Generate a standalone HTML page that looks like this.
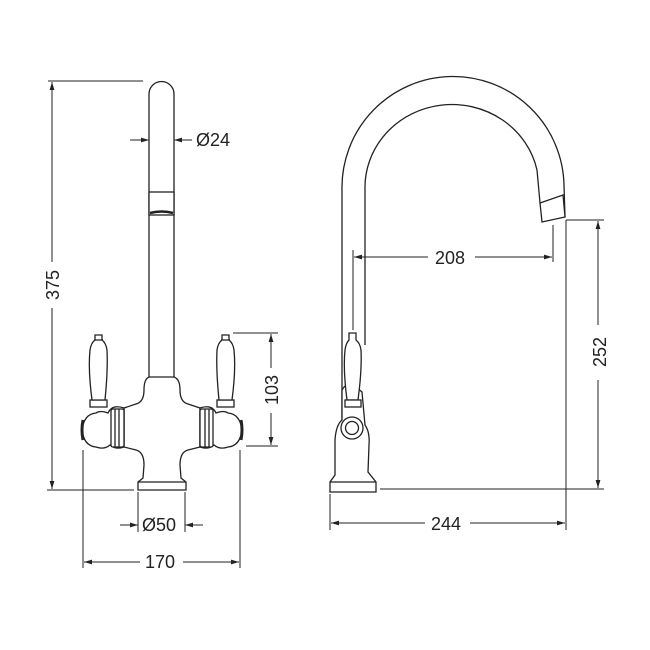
<!DOCTYPE html>
<html><head><style>
body{margin:0;background:#fff}
svg{display:block}
text{font-family:"Liberation Sans",sans-serif;font-size:18px;fill:#222}
</style></head><body>
<svg width="650" height="650" viewBox="0 0 650 650" xmlns="http://www.w3.org/2000/svg">
<defs>
<marker id="a" viewBox="0 0 10 10" refX="10" refY="5" markerWidth="8" markerHeight="8" orient="auto-start-reverse" markerUnits="userSpaceOnUse"><path d="M0,2 L10,5 L0,8z" fill="#222"/></marker>
<g id="h" fill="#fff" stroke="#222" stroke-width="1.3">
<path d="M124,408 Q112,404 108,413 Q100,410 96,413 Q84,414 82,430 Q84,446 96,447 Q104,450 110,445 Q116,450 124,447 Z"/>
<rect x="111" y="409" width="13" height="38" rx="2"/>
<line x1="115" y1="409" x2="115" y2="447"/><line x1="119" y1="409" x2="119" y2="447"/>
<path d="M83,420 Q81,430 83,440" stroke-width="3"/>
<rect x="90" y="400" width="17" height="7"/>
<path d="M92,400 Q88,370 90,350 Q91,343 95,340 L95,335 L102,335 L102,340 Q106,343 107,350 Q108,370 105,400 Z"/>
<line x1="94" y1="340" x2="103" y2="340"/>
</g>
</defs>
<g fill="none" stroke="#222" stroke-width="1.3">
<path d="M149,378 L149,94 A12.5,12.5 0 0 1 174,94 L174,378"/>
<rect x="149" y="192" width="25" height="23" fill="#fff"/>
<path d="M150,213 Q162,210 173,213" stroke-width="2.5"/>
<path d="M149,377 L174,377 Q180,379 180,390 Q180,402 188,404 L200,408 L200,447 L188,450 Q180,452 180,465 L181,478 L186,482 L186,490 L138,490 L138,482 L143,478 L144,465 Q144,452 136,450 L124,447 L124,408 L136,404 Q144,402 144,390 Q144,379 149,377Z" fill="#fff"/>
<line x1="138" y1="482" x2="186" y2="482"/>
</g>
<use href="#h"/>
<use href="#h" transform="translate(324,0) scale(-1,1)"/>
<g fill="none" stroke="#222" stroke-width="1">
<line x1="48" y1="81" x2="143" y2="81"/>
<line x1="47" y1="490" x2="134" y2="490"/>
<line x1="52" y1="82" x2="52" y2="262" marker-start="url(#a)"/>
<line x1="52" y1="308" x2="52" y2="489" marker-end="url(#a)"/>
<line x1="130" y1="140" x2="149" y2="140" marker-end="url(#a)"/>
<line x1="192" y1="140" x2="174" y2="140" marker-end="url(#a)"/>
<line x1="233" y1="333" x2="278" y2="333"/>
<line x1="246" y1="446" x2="278" y2="446"/>
<line x1="271" y1="334" x2="271" y2="368" marker-start="url(#a)"/>
<line x1="271" y1="413" x2="271" y2="445" marker-end="url(#a)"/>
<line x1="138" y1="492" x2="138" y2="532"/><line x1="185" y1="492" x2="185" y2="532"/>
<line x1="120" y1="525" x2="138" y2="525" marker-end="url(#a)"/>
<line x1="203" y1="525" x2="185" y2="525" marker-end="url(#a)"/>
<line x1="83" y1="450" x2="83" y2="568"/><line x1="240" y1="450" x2="240" y2="568"/>
<line x1="84" y1="562" x2="140" y2="562" marker-start="url(#a)"/>
<line x1="183" y1="562" x2="239" y2="562" marker-end="url(#a)"/>
</g>
<text x="196" y="146">Ø24</text>
<text x="142" y="531">Ø50</text>
<text x="145" y="568">170</text>
<text transform="translate(59,285) rotate(-90)" text-anchor="middle">375</text>
<text transform="translate(278,390) rotate(-90)" text-anchor="middle">103</text>
<g fill="none" stroke="#222" stroke-width="1.3">
<path d="M342,440 L342,190 A111,111 0 0 1 564,185 L565,217"/>
<path d="M365,345 L365,190 A87,83 0 0 1 537,170 L540,203"/>
<path d="M540,203 L563,195 L565,217 L542,222 Z" fill="#fff"/>
<path d="M335,475 L335,440 Q336,425 342,420 L342,390 Q346,383 352,384 L362,392 L365,425 Q370,432 369,445 L368,472 L376,482 L376,492 L330,492 L330,482 Z" fill="#fff"/>
<line x1="330" y1="482" x2="376" y2="482"/>
<path d="M347,400 Q343,370 345,350 Q346,343 349,340 L349,333 L356,333 L356,340 Q360,343 361,350 Q362,370 358,400 Z" fill="#fff"/>
<rect x="345" y="400" width="16" height="7" fill="#fff"/>
<circle cx="352" cy="428" r="11" fill="#fff"/>
<circle cx="352" cy="428" r="6.5"/>
</g>
<g fill="none" stroke="#222" stroke-width="1">
<line x1="353" y1="250" x2="353" y2="330"/>
<line x1="553" y1="225" x2="553" y2="262"/>
<line x1="354" y1="257" x2="428" y2="257" marker-start="url(#a)"/>
<line x1="475" y1="257" x2="552" y2="257" marker-end="url(#a)"/>
<line x1="566" y1="220" x2="604" y2="220"/>
<line x1="380" y1="489" x2="604" y2="489"/>
<line x1="598" y1="221" x2="598" y2="325" marker-start="url(#a)"/>
<line x1="598" y1="380" x2="598" y2="488" marker-end="url(#a)"/>
<line x1="566" y1="220" x2="566" y2="530"/>
<line x1="330" y1="494" x2="330" y2="530"/>
<line x1="331" y1="523" x2="425" y2="523" marker-start="url(#a)"/>
<line x1="470" y1="523" x2="565" y2="523" marker-end="url(#a)"/>
</g>
<text x="435" y="264">208</text>
<text x="431" y="530">244</text>
<text transform="translate(606,352) rotate(-90)" text-anchor="middle">252</text>
</svg>
</body></html>
